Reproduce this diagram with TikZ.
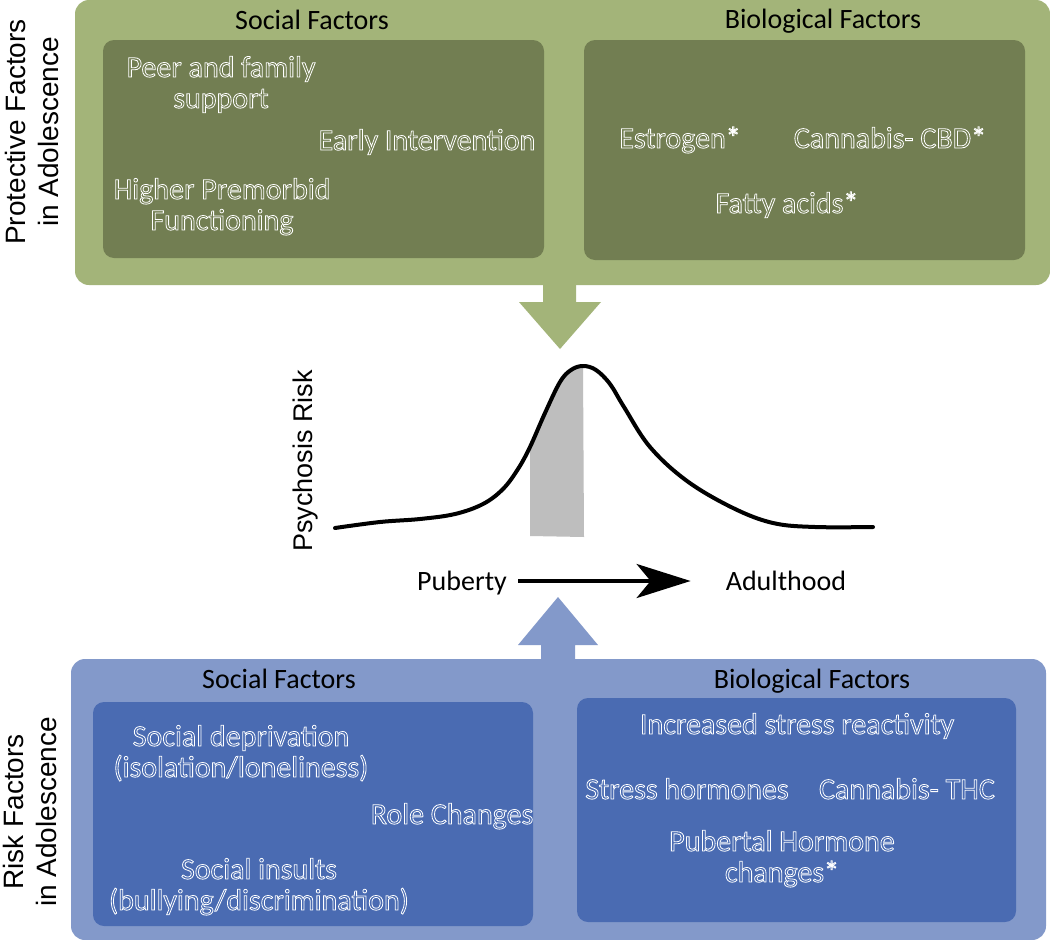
\documentclass[tikz,border=0pt]{standalone}
\usepackage{fontspec}
\setmainfont{Carlito}
\newfontfamily\arialf{Liberation Sans}
\usetikzlibrary{arrows.meta}
\definecolor{gOut}{HTML}{A3B479}
\definecolor{gIn}{HTML}{727E52}
\definecolor{bOut}{HTML}{8399CA}
\definecolor{bIn}{HTML}{4A6BB2}
\definecolor{barGray}{HTML}{BEBEBE}
\newcommand\olt[1]{\special{pdf:literal direct 1 Tr 0.8 w}#1\special{pdf:literal direct 0 Tr}}
\tikzset{
  panel/.style={inner sep=0pt, outer sep=0pt, rounded corners=14pt},
  sub/.style={inner sep=0pt, outer sep=0pt, rounded corners=11pt},
  factor/.style={text=white, font=\fontsize{30}{31}\selectfont, align=center, inner sep=0pt, anchor=base},
  heading/.style={text=black, font=\fontsize{28}{30}\selectfont, inner sep=0pt, anchor=base},
  sidelabel/.style={text=black, font=\arialf\fontsize{28}{33}\selectfont, align=center, rotate=90, inner sep=0pt},
  axislabel/.style={text=black, font=\fontsize{28}{30}\selectfont, inner sep=0pt, anchor=base},
}
\begin{document}
\begin{tikzpicture}[x=1pt, y=-1pt]
\useasboundingbox (0,0) rectangle (1050,940);
\fill[white] (0,0) rectangle (1050,940);

% ---- protective panel ----
\node[panel, fill=gOut, minimum width=975pt, minimum height=285pt] (prot) at (562.5,142.5) {};
\fill[gOut] (543,280) -- (543,302) -- (519,302) -- (560,349) -- (601,302) -- (576,302) -- (576,280) -- cycle;
\node[sub, fill=gIn, minimum width=441pt, minimum height=218pt] (protsoc) at (323.5,149) {};
\node[sub, fill=gIn, minimum width=441pt, minimum height=220pt] (protbio) at (804.5,150) {};
\node[heading] (protsoct) at (312,29) {Social Factors};
\node[heading] (protbiot) at (823,28) {Biological Factors};

\node[factor] (peer) at (221,108) {\olt{Peer and family\\support}};
\node[factor] (early) at (427,150) {\olt{Early Intervention}};
\node[factor] (premorbid) at (222,230) {\olt{Higher Premorbid\\Functioning}};
\node[factor] (estrogen) at (680,148) {\olt{Estrogen*}};
\node[factor] (cbd) at (890,148) {\olt{Cannabis- CBD*}};
\node[factor] (fatty) at (787,213) {\olt{Fatty acids*}};

% ---- risk panel ----
\fill[bOut] (541,664) -- (541,645) -- (518,645) -- (558,597) -- (598,645) -- (575,645) -- (575,664) -- cycle;
\node[panel, fill=bOut, minimum width=975pt, minimum height=281pt] (risk) at (558.5,799.5) {};
\node[sub, fill=bIn, minimum width=440pt, minimum height=224pt] (risksoc) at (313,814) {};
\node[sub, fill=bIn, minimum width=439pt, minimum height=224pt] (riskbio) at (796.5,810) {};
\node[heading] (risksoct) at (279,688) {Social Factors};
\node[heading] (riskbiot) at (812,688) {Biological Factors};

\node[factor] (depriv) at (241,777) {\olt{Social deprivation\\(isolation/loneliness)}};
\node[factor] (role) at (452,824) {\olt{Role Changes}};
\node[factor] (insults) at (259,910) {\olt{Social insults\\(bullying/discrimination)}};
\node[factor] (stressr) at (797,734) {\olt{Increased stress reactivity}};
\node[factor] (stressh) at (687,799) {\olt{Stress hormones}};
\node[factor] (thc) at (907,799) {\olt{Cannabis- THC}};
\node[factor] (puberhorm) at (782,882) {\olt{Pubertal Hormone\\changes*}};

% ---- side labels ----
\node[sidelabel] (protlab) at (32,132) {Protective Factors\\in Adolescence};
\node[sidelabel] (risklab) at (30,812) {Risk Factors\\in Adolescence};

% ---- curve ----
\fill[barGray] (530,536) -- (530,447)
  .. controls (540,424) and (552,398) .. (560,382)
  .. controls (566,372) and (574,367) .. (583,366) -- (584,537) -- cycle;
\draw[line width=4pt, line cap=round, line join=round]
  plot[smooth, tension=0.6] coordinates {(335,528) (380,522) (420,519) (455,514) (483,504) (503,489) (518,469) (530,447) (545,413) (560,382) (571,370) (583,366) (596,370) (610,384) (624,407) (650,447) (687,481) (733,508) (773,523) (815,527) (873,527)};
\node[sidelabel, font=\arialf\fontsize{27}{30}\selectfont] (psy) at (306,461) {Psychosis Risk};

% ---- time axis ----
\node[axislabel] (pub) at (462,590) {Puberty};
\node[axislabel] (adult) at (786,590) {Adulthood};
\draw[line width=4pt, -{Stealth[length=54pt, width=34pt, inset=14pt]}, shorten <=11pt, shorten >=35pt]
  (pub.east |- 0,581) -- (adult.west |- 0,581);
\end{tikzpicture}
\end{document}
